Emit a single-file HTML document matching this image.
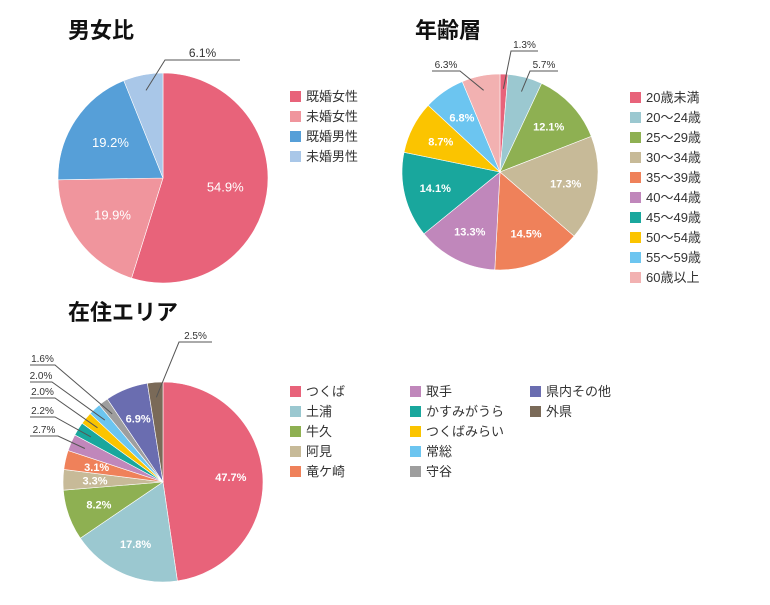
<!DOCTYPE html>
<html><head><meta charset="utf-8">
<style>
body{margin:0;background:#fff;}
svg text{font-family:"Liberation Sans","Noto Sans CJK JP",sans-serif;}
</style></head>
<body>
<svg id="c" width="770" height="600" xmlns="http://www.w3.org/2000/svg">
<text x="68" y="38" font-size="22" font-weight="bold" fill="#111">男女比</text>
<text x="415" y="38" font-size="22" font-weight="bold" fill="#111">年齢層</text>
<text x="68" y="320" font-size="22" font-weight="bold" fill="#111">在住エリア</text>
</svg>
<script>
const genderCats=["既婚女性","未婚女性","既婚男性","未婚男性"];
const genderVals=[54.9,19.9,19.2,6.1];
const ageCats=["20歳未満","20～24歳","25～29歳","30～34歳","35～39歳","40～44歳","45～49歳","50～54歳","55～59歳","60歳以上"];
const ageVals=[1.3,5.7,12.1,17.3,14.5,13.3,14.1,8.7,6.8,6.3];
const areaCats=["つくば","土浦","牛久","阿見","竜ケ崎","取手","かすみがうら","つくばみらい","常総","守谷","県内その他","外県"];
const areaVals=[47.7,17.8,8.2,3.3,3.1,2.7,2.2,2.0,2.0,1.6,6.9,2.5];

const svg=document.getElementById('c');
const NS="http://www.w3.org/2000/svg";
function mk(t,a){const e=document.createElementNS(NS,t);for(const k in a)e.setAttribute(k,a[k]);svg.appendChild(e);return e;}

function pie(o){
  const tot=o.vals.reduce((a,b)=>a+b,0);
  let a0=-Math.PI/2;
  o.vals.forEach((v,i)=>{
    const a1=a0+v/tot*2*Math.PI;
    const x0=o.cx+o.r*Math.cos(a0),y0=o.cy+o.r*Math.sin(a0);
    const x1=o.cx+o.r*Math.cos(a1),y1=o.cy+o.r*Math.sin(a1);
    const p=mk('path',{d:`M${o.cx},${o.cy}L${x0},${y0}A${o.r},${o.r} 0 ${a1-a0>Math.PI?1:0} 1 ${x1},${y1}Z`,fill:o.colors[i],stroke:'#fff','stroke-width':0.6});
    
    
    const am=(a0+a1)/2;
    const lbl=v.toFixed(1)+'%';
    const ol=o.outside[i];
    if(ol){
      const sx=o.cx+o.r*0.85*Math.cos(am),sy=o.cy+o.r*0.85*Math.sin(am);
      const ln=mk('polyline',{points:`${sx},${sy} ${ol[0]},${ol[1]} ${ol[2]},${ol[1]}`,fill:'none',stroke:'#555','stroke-width':1});
      
      
      const tx=mk('text',{x:Math.min(ol[0],ol[2])+Math.abs(ol[2]-ol[0])/2,y:ol[1]-3,'font-size':o.oFont,fill:'#333','text-anchor':'middle'});
      tx.textContent=lbl;
      
      
    } else {
      const tx=mk('text',{x:o.cx+o.r*o.lr*Math.cos(am),y:o.cy+o.r*o.lr*Math.sin(am)+4,'font-size':o.iFont,'font-weight':o.bold?'bold':'normal',fill:'#fff','text-anchor':'middle'});
      tx.textContent=lbl;
      
      
    }
    a0=a1;
  });
  o.cats.forEach((c,i)=>{
    const col=Math.floor(i/o.lrows),row=i%o.lrows;
    const x=o.lx+col*o.lcolw,y=o.ly+row*o.lstep;
    const r=mk('rect',{x:x,y:y-10,width:11,height:11,fill:o.colors[i]});
    
    
    const t=mk('text',{x:x+16,y:y,'font-size':13,fill:'#333'});
    t.textContent=c;
    
    
  });
}

pie({prefix:'gender',cx:163,cy:178,r:105,vals:genderVals,cats:genderCats,
  colors:['#E8637A','#F0959D','#569FD8','#A9C7E8'],lr:0.6,iFont:13,bold:false,oFont:12,
  outside:{3:[165,60,240]},lx:290,ly:101,lstep:20,lrows:4,lcolw:0});

pie({prefix:'age',cx:500,cy:172,r:98,vals:ageVals,cats:ageCats,
  colors:['#E8637A','#9BC8D0','#8EB052','#C7BA98','#EF815A','#C087BB','#19A79D','#FBC400','#6CC5F0','#F2B1B1'],
  lr:0.68,iFont:11,bold:true,oFont:10,
  outside:{0:[511,51,538],1:[530,71,558],9:[460,71,432]},lx:630,ly:102,lstep:20,lrows:10,lcolw:0});

pie({prefix:'area',cx:163,cy:482,r:100,vals:areaVals,cats:areaCats,
  colors:['#E8637A','#9BC8D0','#8EB052','#C7BA98','#EF815A','#C087BB','#19A79D','#FBC400','#6CC5F0','#9E9E9E','#6A6DB0','#7A6A58'],
  lr:0.68,iFont:11,bold:true,oFont:10,
  outside:{11:[179,342,212],9:[55,365,30],8:[52,382,30],7:[55,398,30],6:[55,417,30],5:[58,436,30]},
  lx:290,ly:396,lstep:20,lrows:5,lcolw:120});
</script>
</body></html>
